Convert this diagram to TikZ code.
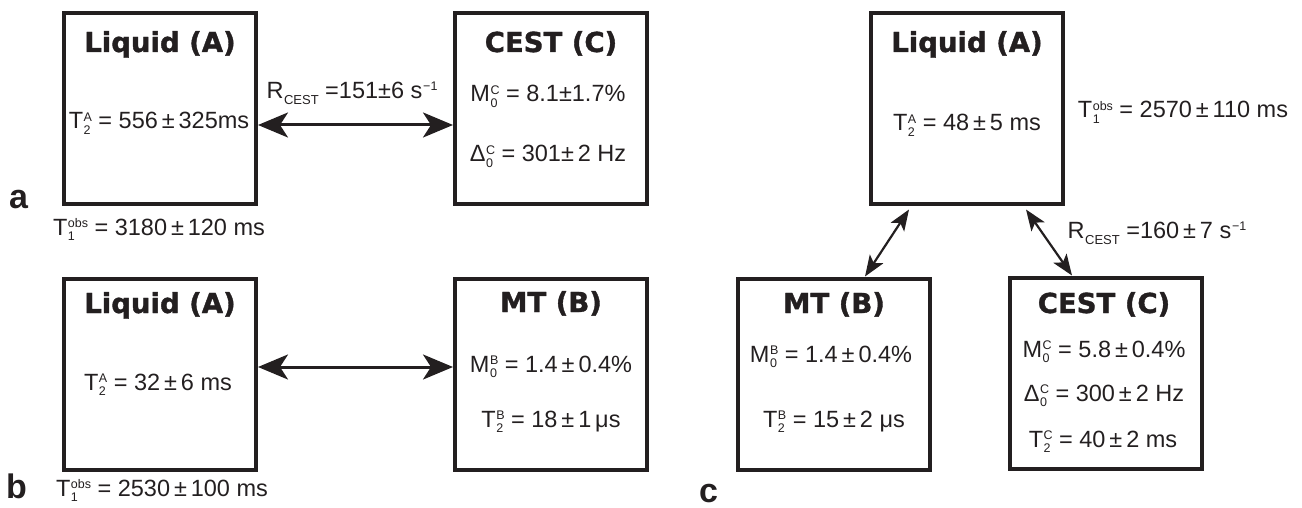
\documentclass[tikz,border=0pt]{standalone}
\usepackage{fontspec}
\setmainfont{Liberation Sans}
\newfontfamily\titlefont{DejaVu Sans}[BoldFeatures={FakeBold=1.3}]
\usetikzlibrary{arrows.meta}
\definecolor{ink}{HTML}{231F20}
% small script size for indices
\newcommand\scr{\fontsize{12.5}{12.5}\selectfont}
% symbol with stacked subscript and superscript
\newcommand\qt[3]{#1\kern0.5pt\ooalign{\raisebox{7.6pt}{\scr #3}\cr\raisebox{-5.6pt}{\scr #2}\cr}}
\newcommand\rcest{R\kern0.5pt\raisebox{-6pt}{\fontsize{13}{13}\selectfont CEST}}
\newcommand\perS{s\kern0.8pt\raisebox{8pt}{\scr −1}}
\tikzset{
  pool/.style={draw=ink, line width=4pt, minimum width=192pt, minimum height=191pt, inner sep=0pt},
  title/.style={font=\titlefont\bfseries\fontsize{27.5}{30}\selectfont, anchor=base, text=ink, inner sep=0pt},
  val/.style={font=\fontsize{23.5}{26}\selectfont, anchor=base, text=ink, inner sep=0pt},
  panel/.style={font=\bfseries\fontsize{34}{36}\selectfont, anchor=base west, text=ink, inner sep=0pt},
  biglink/.style={draw=ink, line width=3pt,
    {Stealth[length=30pt,width=25pt,inset=8pt]}-{Stealth[length=30pt,width=25pt,inset=8pt]}},
  smalllink/.style={draw=ink, line width=2.2pt,
    {Stealth[length=21pt,width=16pt,inset=5pt]}-{Stealth[length=21pt,width=16pt,inset=5pt]}},
}
\begin{document}
\begin{tikzpicture}[x=1pt,y=-1pt]
\useasboundingbox (0,0) rectangle (1302,508);

% ---------- panel a : liquid <-> CEST ----------
\node[pool] (aLiq) at (160,109) {};
\node[pool] (aCest) at (551,109) {};
\node[title] (aLiqT) at (160,52) {Liquid (A)};
\node[val] (aLiqV) at (159,129) {\qt{T}{2}{A} = 556\,±\,325ms};
\node[title] (aCestT) at (551,52) {CEST (C)};
\node[val] (aCestM) at (548,102) {\qt{M}{0}{C} = 8.1±1.7\%};
\node[val] (aCestD) at (548,162) {\qt{Δ}{0}{C} = 301±\,2 Hz};
\node[val] (aRate) at (352,99) {\rcest\ =151±6 \perS};
\node[val] (aObs) at (159,235) {\qt{T}{1}{obs} = 3180\,±\,120 ms};
\node[panel] (aLab) at (9,208) {a};
\draw[biglink] ([yshift=-16pt]aLiq.east) -- ([yshift=-16pt]aCest.west);

% ---------- panel b : liquid <-> MT ----------
\node[pool] (bLiq) at (160,374) {};
\node[pool] (bMt) at (551,374) {};
\node[title] (bLiqT) at (160,313) {Liquid (A)};
\node[val] (bLiqV) at (158,390) {\qt{T}{2}{A} = 32\,±\,6 ms};
\node[title] (bMtT) at (551,312) {MT (B)};
\node[val] (bMtM) at (551,372) {\qt{M}{0}{B} = 1.4\,±\,0.4\%};
\node[val] (bMtT2) at (551,427) {\qt{T}{2}{B} = 18\,±\,1\,μs};
\node[val] (bObs) at (162,496) {\qt{T}{1}{obs} = 2530\,±\,100 ms};
\node[panel] (bLab) at (6,498) {b};
\draw[biglink] ([yshift=7pt]bLiq.east) -- ([yshift=7pt]bMt.west);

% ---------- panel c : three pools ----------
\node[pool] (cLiq) at (967,109) {};
\node[pool] (cMt) at (834,374) {};
\node[pool] (cCest) at (1106,373) {};
\node[title] (cLiqT) at (967,52) {Liquid (A)};
\node[val] (cLiqV) at (967,131) {\qt{T}{2}{A} = 48\,±\,5 ms};
\node[val] (cObs) at (1183,118) {\qt{T}{1}{obs} = 2570\,±\,110 ms};
\node[title] (cMtT) at (834,313) {MT (B)};
\node[val] (cMtM) at (831,362) {\qt{M}{0}{B} = 1.4\,±\,0.4\%};
\node[val] (cMtT2) at (834,427) {\qt{T}{2}{B} = 15\,±\,2 μs};
\node[title] (cCestT) at (1104,313) {CEST (C)};
\node[val] (cCestM) at (1104,357) {\qt{M}{0}{C} = 5.8\,±\,0.4\%};
\node[val] (cCestD) at (1104,401) {\qt{Δ}{0}{C} = 300\,±\,2 Hz};
\node[val] (cCestT2) at (1103,447) {\qt{T}{2}{C} = 40\,±\,2 ms};
\node[val] (cRate) at (1157,238) {\rcest\ =160\,±\,7 \perS};
\node[panel] (cLab) at (699,502) {c};
\draw[smalllink] ([xshift=-58pt,yshift=-3pt]cLiq.south) -- ([xshift=31pt]cMt.north);
\draw[smalllink] ([xshift=59pt,yshift=-3pt]cLiq.south) -- ([xshift=-34pt]cCest.north);
\end{tikzpicture}
\end{document}
